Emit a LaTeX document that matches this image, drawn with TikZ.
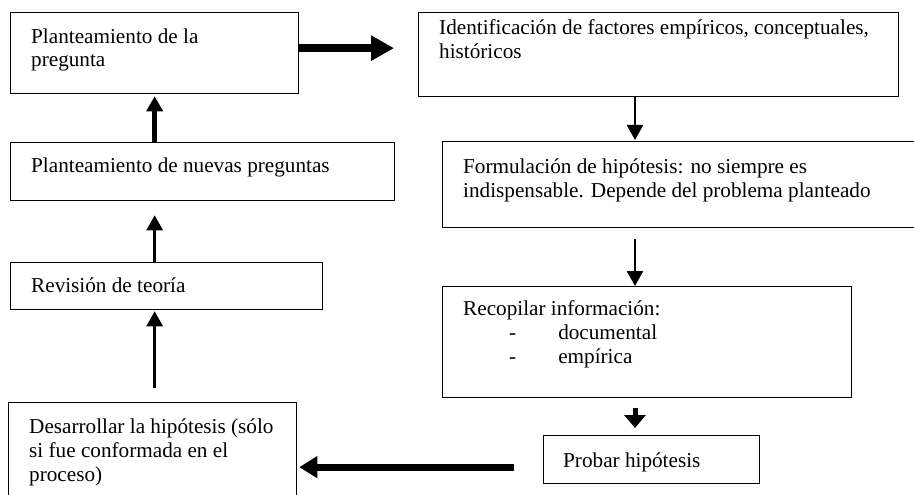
\documentclass[tikz,border=0pt]{standalone}
\usepackage{fontspec}
\setmainfont{Liberation Serif}
\usetikzlibrary{arrows.meta}

\begin{document}
\begin{tikzpicture}[x=1pt,y=-1pt,
  caja/.style={draw,line width=1.3pt,anchor=north west,inner sep=0pt},
  texto/.style={anchor=base west,align=left,inner sep=0pt,
    font=\fontsize{21.2}{24}\selectfont},
  fina/.style={-{Triangle[length=15pt,width=16pt]},line width=2.6pt},
  media/.style={-{Triangle[length=15pt,width=16pt]},line width=5.5pt},
  gruesa/.style={-{Triangle[length=23pt,width=24pt]},line width=8.4pt}]
  \useasboundingbox (0,0) rectangle (914,495);
  \coordinate (eje) at (635,0);
  % left column (text nodes sit on the baseline of their last line)
  \node[caja,minimum width=288,minimum height=81] (b1) at (10,12) {};
  \node[texto] (t1) at (31,67) {Planteamiento de la\\pregunta};
  \node[caja,minimum width=384,minimum height=58] (b3) at (10,142) {};
  \node[texto] (t3) at (31,172) {Planteamiento de nuevas preguntas};
  \node[caja,minimum width=312,minimum height=47] (b4) at (10,262) {};
  \node[texto] (t4) at (31,292) {Revisión de teoría};
  \node[caja,minimum width=288,minimum height=130] (b5) at (8,402) {};
  \node[texto] (t5) at (29,481)
    {Desarrollar la hipótesis (sólo\\si fue conformada en el\\proceso)};
  % right column
  \node[caja,minimum width=480,minimum height=84] (b2) at (418,12) {};
  \node[texto] (t2) at (439,59)
    {Identificación de factores empíricos, conceptuales,\\históricos};
  \node[caja,minimum width=500,minimum height=86] (b6) at (442,141) {};
  \node[texto] (t6) at (463,197)
    {Formulación de hipótesis: no siempre es\\indispensable. Depende del problema planteado};
  \node[caja,minimum width=409,minimum height=111] (b7) at (442,286) {};
  \node[texto] (t7) at (463,363)
    {Recopilar información:\\
     \hspace*{46pt}-\hspace*{42pt}documental\\
     \hspace*{46pt}-\hspace*{42pt}empírica};
  \node[caja,minimum width=216,minimum height=48] (b8) at (543,435) {};
  \node[texto] (t8) at (563,467) {Probar hipótesis};
  % arrows
  \draw[gruesa,shorten >=24pt] ([yshift=5pt]b1.east) -- ([yshift=5pt]b1.east -| b2.west);
  \draw[fina,shorten >=1pt] (b2.south -| eje) -- (b6.north -| eje);
  \draw[fina,shorten <=11pt] (b6.south -| eje) -- (b7.north -| eje);
  \draw[-{Triangle[length=13pt,width=21pt]},line width=5pt,shorten <=10pt,shorten >=7pt]
    (b7.south -| eje) -- (b8.north -| eje);
  \draw[-{Triangle[length=18pt,width=21pt]},line width=7pt,shorten <=29pt,shorten >=2pt]
    ([yshift=-7.5pt]b8.west) -- ([yshift=-7.5pt]b8.west -| b5.east);
  \draw[fina,shorten <=14pt,shorten >=1pt] (b5.north -| b1.south) -- (b4.south -| b1.south);
  \draw[fina,shorten >=14pt] (b4.north -| b1.south) -- (b3.south -| b1.south);
  \draw[media,shorten >=2pt] (b3.north -| b1.south) -- (b1.south);
\end{tikzpicture}
\end{document}
